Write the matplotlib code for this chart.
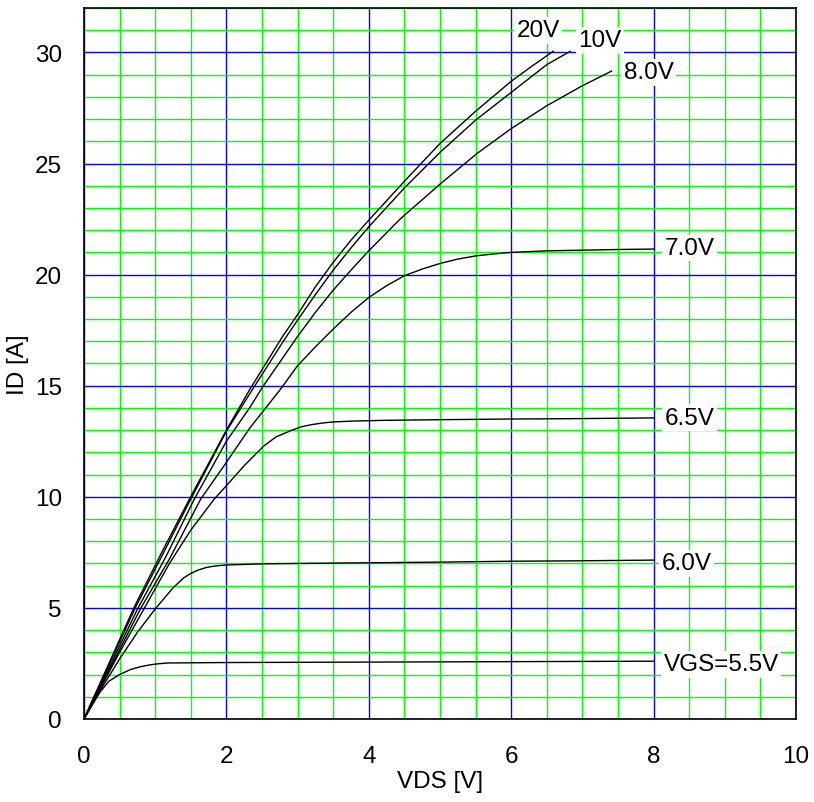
import numpy as np
import matplotlib
matplotlib.use("Agg")
import matplotlib.pyplot as plt
from matplotlib.ticker import MultipleLocator

plt.rcParams['font.family'] = ['Liberation Sans', 'DejaVu Sans']

# output characteristics, ID [A] vs VDS [V], one curve per VGS
labels = ["20V", "10V", "8.0V", "7.0V", "6.5V", "6.0V", "VGS=5.5V"]

vds_20 = [0, 0.35, 0.7, 1.1, 1.49, 2.0, 2.33, 2.78, 3.0, 3.25, 3.5, 3.75, 4.0, 4.5, 5.0, 5.5, 6.0, 6.3, 6.59]
id_20 = [0, 2.5, 5.0, 7.55, 9.95, 13.0, 14.84, 17.17, 18.2, 19.45, 20.55, 21.55, 22.45, 24.2, 25.9, 27.35, 28.7, 29.4, 30.05]

vds_10 = [0, 0.36, 0.72, 1.12, 1.5, 2.0, 2.36, 2.82, 3.0, 3.25, 3.5, 3.75, 4.0, 4.5, 5.0, 5.5, 6.0, 6.5, 6.83]
id_10 = [0, 2.5, 5.0, 7.5, 9.9, 12.95, 14.8, 17.1, 17.95, 19.1, 20.2, 21.2, 22.15, 23.9, 25.5, 26.95, 28.2, 29.45, 30.05]

vds_8 = [0, 0.38, 0.76, 1.15, 1.55, 2.0, 2.33, 2.5, 2.99, 3.25, 3.5, 3.75, 4.0, 4.44, 5.0, 5.52, 6.0, 6.5, 7.0, 7.41]
id_8 = [0, 2.5, 5.0, 7.3, 9.9, 12.5, 14.02, 14.9, 17.17, 18.3, 19.3, 20.2, 21.07, 22.5, 24.07, 25.45, 26.57, 27.6, 28.5, 29.16]

vds_7 = [0, 0.4, 0.8, 1.2, 1.64, 2.0, 2.33, 2.75, 3.0, 3.25, 3.5, 3.75, 4.0, 4.25, 4.5, 4.75, 5.0, 5.25, 5.5,
         5.75, 6.0, 6.5, 7.0, 7.5, 8.0]
id_7 = [0, 2.5, 5.0, 7.2, 9.9, 11.55, 13.1, 14.8, 15.9, 16.75, 17.55, 18.3, 18.97, 19.5, 19.95, 20.25, 20.5, 20.7, 20.84,
        20.93, 21.0, 21.07, 21.1, 21.13, 21.15]

vds_65 = [0, 0.25, 0.5, 0.85, 1.2, 1.5, 1.83, 2.0, 2.25, 2.53, 2.7, 2.9, 3.05, 3.2, 3.35, 3.5, 3.8, 4.2, 5.0, 6.0, 7.0, 8.0]
id_65 = [0, 1.5, 3.0, 5.0, 7.0, 8.5, 9.9, 10.5, 11.4, 12.3, 12.7, 12.97, 13.15, 13.25, 13.32, 13.37, 13.41, 13.44, 13.47,
         13.5, 13.52, 13.55]

vds_6 = [0, 0.25, 0.5, 0.75, 1.0, 1.25, 1.4, 1.5, 1.6, 1.72, 1.85, 2.0, 2.5, 3.0, 4.0, 5.0, 6.0, 7.0, 8.0]
id_6 = [0, 1.4, 2.7, 3.9, 4.95, 5.9, 6.35, 6.55, 6.7, 6.82, 6.89, 6.93, 6.98, 7.0, 7.03, 7.06, 7.1, 7.12, 7.15]

vds_55 = [0, 0.1, 0.225, 0.35, 0.5, 0.65, 0.79, 0.9, 1.0, 1.17, 2.0, 4.0, 6.0, 8.0]
id_55 = [0, 0.55, 1.21, 1.7, 2.0, 2.22, 2.35, 2.42, 2.47, 2.52, 2.54, 2.56, 2.58, 2.6]

x_ticks = [0, 2, 4, 6, 8, 10]
y_ticks = [0, 5, 10, 15, 20, 25, 30]

series = [(vds_20, id_20), (vds_10, id_10), (vds_8, id_8), (vds_7, id_7),
          (vds_65, id_65), (vds_6, id_6), (vds_55, id_55)]

# label offsets from curve end, in pixels (ha, dx, dy)
label_pos = [("center", -15, 21), ("left", 8, 11), ("left", 12, -1), ("left", 11, 1),
             ("left", 11, 0), ("left", 8, -3), ("left", 10, -3)]

fig = plt.figure(figsize=(8.14, 8.03), dpi=100)
ax = fig.add_axes([0.1032, 0.1034, 0.8746, 0.8854])

ax.set_xlim(0, 10)
ax.set_ylim(0, 32)
ax.xaxis.set_major_locator(MultipleLocator(2))
ax.xaxis.set_minor_locator(MultipleLocator(0.5))
ax.yaxis.set_major_locator(MultipleLocator(5))
ax.yaxis.set_minor_locator(MultipleLocator(1))
ax.set_xticks(x_ticks)
ax.set_yticks(y_ticks)

ax.grid(which="minor", color="#00ff00", linewidth=1.0, zorder=0)
ax.grid(which="major", color="#0000ff", linewidth=1.0, zorder=0)
ax.set_axisbelow(True)

ax.tick_params(which="both", length=0, labelsize=17.5)
ax.tick_params(axis="x", pad=19)
ax.tick_params(axis="y", pad=16)

for sp in ax.spines.values():
    sp.set_color("black")
    sp.set_linewidth(1.2)

for (xs, ys), lab, (ha, dx, dy) in zip(series, labels, label_pos):
    ax.plot(xs, ys, color="black", linewidth=1.0, zorder=3)
    ax.annotate(lab, xy=(xs[-1], ys[-1]), xytext=(dx, dy), textcoords="offset pixels",
                ha=ha, va="center", fontsize=17.5, zorder=4,
                bbox=dict(boxstyle="square,pad=0.1", facecolor="white", edgecolor="none"))

ax.set_xlabel("VDS [V]", fontsize=17.5, labelpad=2)
ax.set_ylabel("ID [A]", fontsize=17.5, labelpad=4)

fig.savefig("out.png", dpi=100)
